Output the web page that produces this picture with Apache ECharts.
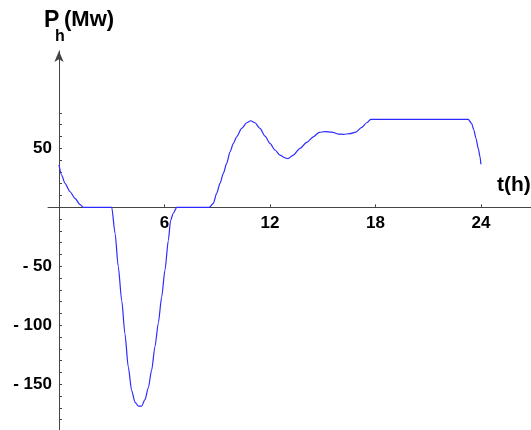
<!DOCTYPE html>
<html>
<head>
<meta charset="utf-8">
<script src="https://cdn.jsdelivr.net/npm/echarts@6/dist/echarts.min.js"></script>
<style>
  html, body { margin: 0; padding: 0; background: #fff; }
  #chart { width: 531px; height: 430px; }
</style>
</head>
<body>
<div id="chart"></div>
<script>
// time in hours, power in MW
const hours = [0, 0.15, 0.34, 0.63, 0.91, 1.19, 1.38, 3.0, 3.19, 3.37, 3.57, 3.75, 3.94, 4.13, 4.32, 4.51,
  4.70, 4.89, 5.08, 5.27, 5.46, 5.65, 5.84, 6.03, 6.22, 6.35, 6.5, 6.7, 8.55, 8.78, 8.97, 9.16, 9.35,
  9.54, 9.73, 9.92, 10.11, 10.39, 10.68, 10.9, 11.15, 11.43, 11.72, 12.0, 12.29, 12.57, 12.86, 13.02,
  13.33, 13.71, 14.09, 14.47, 14.81, 15.13, 15.51, 15.89, 16.17, 16.55, 16.89, 17.22, 17.5, 17.73,
  23.28, 23.47, 23.6, 23.72, 23.85, 23.95, 24.0];
const power = [36, 27.4, 20.3, 13.2, 7.6, 2.5, 0, 0, -22, -50, -79, -107, -135, -155, -165, -168.4,
  -168.4, -163, -153, -138, -118, -98, -76, -53, -28, -11, -5, 0, 0, 3.4, 11.9, 20.3, 28.8,
  37.3, 47.1, 54.2, 59.8, 66.9, 71.7, 73.4, 71.7, 66.9, 60.4, 54.2, 48.6, 44.3, 42, 41.3,
  44.3, 50, 55.1, 59.8, 63.6, 64.1, 63.8, 62.1, 61.9, 62.4, 63.8, 67.8, 71.7, 74.6,
  74.6, 71.2, 65.5, 58.5, 50, 42.9, 36.5];

const xTicks = [6, 12, 18, 24];
const yLabels = [-150, -100, -50, 50];
const yTicks = [-180, -170, -160, -150, -140, -130, -120, -110, -100, -90, -80, -70, -60, -50,
  -40, -30, -20, -10, 10, 20, 30, 40, 50, 60, 70, 80];

const X_MIN = -0.625, X_MAX = 26.85;
const Y_MIN = -188.7, Y_MAX = 132.5;
const GRID_LEFT = 48, GRID_W = 483, GRID_TOP = 51, GRID_H = 379;

const chart = echarts.init(document.getElementById('chart'));

const labelFont = {
  fontFamily: 'Liberation Sans',
  fontWeight: 'bold',
  fontSize: 17,
  color: '#000'
};

// axes cross at (0, 0): shift them in from the grid edges
const xAxisOffset = -GRID_H * (0 - Y_MIN) / (Y_MAX - Y_MIN);
const yAxisOffset = -GRID_W * (0 - X_MIN) / (X_MAX - X_MIN);

chart.setOption({
  animation: false,
  grid: { left: GRID_LEFT, width: GRID_W, top: GRID_TOP, height: GRID_H, outerBoundsMode: 'none', containLabel: false },
  xAxis: {
    type: 'value',
    min: X_MIN,
    max: X_MAX,
    position: 'bottom',
    offset: xAxisOffset,
    splitLine: { show: false },
    axisLine: { onZero: false, lineStyle: { color: '#444', width: 1 } },
    axisTick: { inside: true, length: 3, customValues: xTicks, lineStyle: { color: '#444' } },
    axisLabel: Object.assign({ customValues: xTicks, margin: 7 }, labelFont)
  },
  yAxis: {
    type: 'value',
    min: Y_MIN,
    max: Y_MAX,
    position: 'left',
    offset: yAxisOffset,
    splitLine: { show: false },
    axisLine: {
      onZero: false,
      symbol: ['none', 'arrow'],
      symbolSize: [7, 11],
      lineStyle: { color: '#444', width: 1 }
    },
    axisTick: { inside: true, length: 3, customValues: yTicks, lineStyle: { color: '#444' } },
    axisLabel: Object.assign({
      customValues: yLabels,
      margin: 7,
      formatter: v => (v < 0 ? '- ' + (-v) : String(v))
    }, labelFont)
  },
  graphic: [
    { type: 'text', left: 44, top: 9, style: { text: 'P', font: 'bold 23px "Liberation Sans"', fill: '#000' } },
    { type: 'text', left: 55, top: 29, style: { text: 'h', font: 'bold 16px "Liberation Sans"', fill: '#000' } },
    { type: 'text', left: 64, top: 9, style: { text: '(Mw)', font: 'bold 22px "Liberation Sans"', fill: '#000' } },
    { type: 'text', left: 497, top: 175, style: { text: 't(h)', font: 'bold 21px "Liberation Sans"', fill: '#000' } }
  ],
  series: [{
    type: 'line',
    data: hours.map((h, i) => [h, power[i]]),
    showSymbol: false,
    smooth: 0.25,
    smoothMonotone: 'x',
    lineStyle: { color: '#2b2bff', width: 1.2 }
  }]
});
</script>
</body>
</html>
